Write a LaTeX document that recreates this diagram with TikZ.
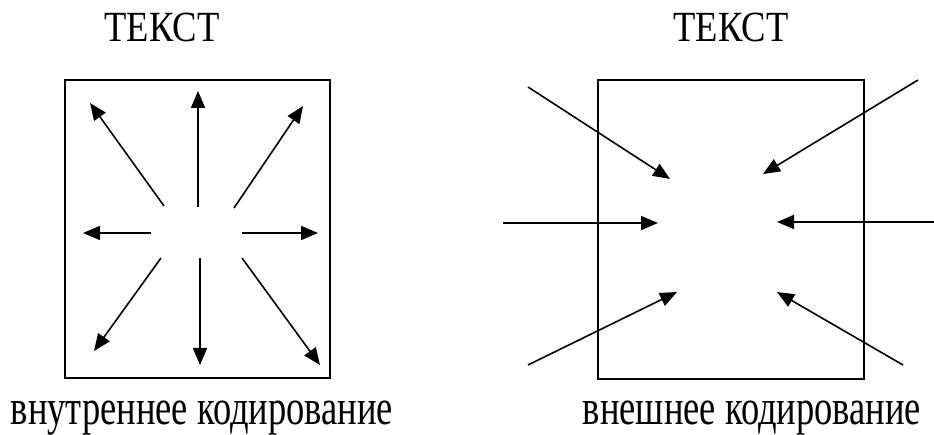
\documentclass[tikz,border=0pt]{standalone}
\usepackage{fontspec}
\setmainfont{Liberation Serif}
\usepackage{tikz}
\usetikzlibrary{arrows.meta,positioning}

\begin{document}
\begin{tikzpicture}[x=1pt,y=1pt,
  box/.style={draw=black,line width=2pt,inner sep=0pt,fill=none},
  arr/.style={line width=1.6pt,-{Triangle[length=17pt,width=14pt]}},
  ttl/.style={font=\fontsize{43}{43}\selectfont,anchor=base,inner sep=0pt},
  sub/.style={font=\fontsize{50}{50}\selectfont,anchor=base,inner sep=0pt}]
  \useasboundingbox (0,0) rectangle (934,435);

  % заголовки и подписи
  \node[ttl] (ttlL) at (162,393) {\scalebox{0.85}[1]{ТЕКСТ}};
  \node[ttl] (ttlR) at (731,393) {\scalebox{0.85}[1]{ТЕКСТ}};
  \node[sub] (subL) at (202,10) {\scalebox{0.73}[1]{внутреннее кодирование}};
  \node[sub] (subR) at (752,10) {\scalebox{0.73}[1]{внешнее кодирование}};

  % рамки
  \node[box,minimum width=265pt,minimum height=298pt] (boxL) at (197.5,206) {};
  \node[box,minimum width=266pt,minimum height=299pt] (boxR) at (731,205.5) {};

  % внутреннее: стрелки от центра наружу
  \coordinate (iU0) at (198,228);  \coordinate (iU1) at (198,344);
  \coordinate (iUL0) at (164,229); \coordinate (iUL1) at (90,332);
  \coordinate (iUR0) at (234,227); \coordinate (iUR1) at (303,329);
  \coordinate (iL0) at (151,202);  \coordinate (iL1) at (83,202);
  \coordinate (iR0) at (242,202);  \coordinate (iR1) at (318,202);
  \coordinate (iDL0) at (161,177); \coordinate (iDL1) at (94,84);
  \coordinate (iD0) at (200,177);  \coordinate (iD1) at (200,70);
  \coordinate (iDR0) at (242,177); \coordinate (iDR1) at (320,70);
  \draw[arr] (iU0) -- (iU1);
  \draw[arr] (iUL0) -- (iUL1);
  \draw[arr] (iUR0) -- (iUR1);
  \draw[arr] (iL0) -- (iL1);
  \draw[arr] (iR0) -- (iR1);
  \draw[arr] (iDL0) -- (iDL1);
  \draw[arr] (iD0) -- (iD1);
  \draw[arr] (iDR0) -- (iDR1);

  % внешнее: стрелки снаружи к центру
  \coordinate (oUL0) at (528,348); \coordinate (oUL1) at (670,256);
  \coordinate (oUR0) at (918,355); \coordinate (oUR1) at (763,261);
  \coordinate (oL0) at (503,212);  \coordinate (oL1) at (658,212);
  \coordinate (oR0) at (934,213);  \coordinate (oR1) at (777,213);
  \coordinate (oDL0) at (528,70);  \coordinate (oDL1) at (677,143);
  \coordinate (oDR0) at (903,70);  \coordinate (oDR1) at (777,143);
  \draw[arr] (oUL0) -- (oUL1);
  \draw[arr] (oUR0) -- (oUR1);
  \draw[arr] (oL0) -- (oL1);
  \draw[arr] (oR0) -- (oR1);
  \draw[arr] (oDL0) -- (oDL1);
  \draw[arr] (oDR0) -- (oDR1);
\end{tikzpicture}
\end{document}
